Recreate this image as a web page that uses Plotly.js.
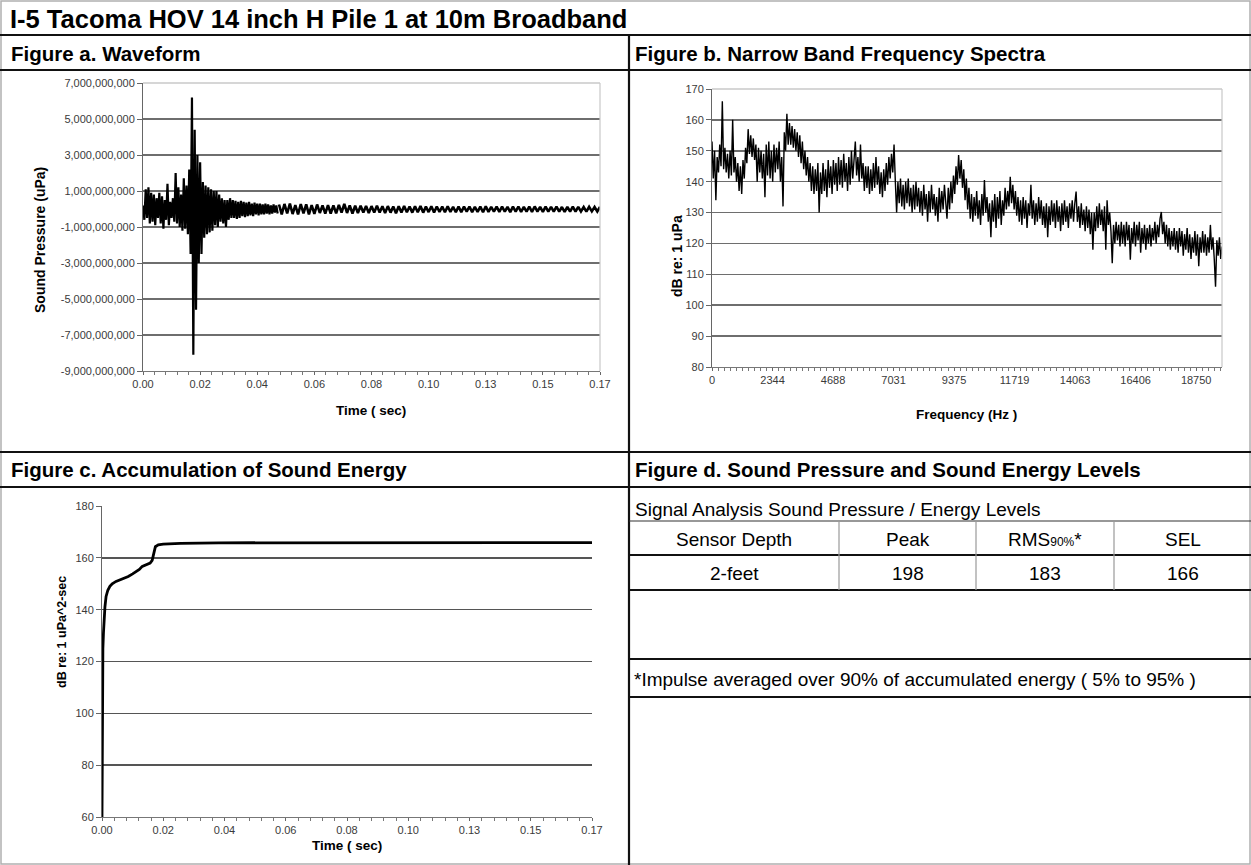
<!DOCTYPE html>
<html><head><meta charset="utf-8">
<script src="https://cdn.plot.ly/plotly-3.0.1.min.js"></script>
<style>html,body{margin:0;padding:0;background:#fff;}#chart{width:1251px;height:865px;}</style>
</head><body><div id="chart"></div>
<script>
// ---------------- DATA ----------------
const chartTitle = 'I-5 Tacoma HOV 14 inch H Pile 1 at 10m Broadband';
const panelTitles = ['Figure a. Waveform', 'Figure b. Narrow Band Frequency Spectra',
  'Figure c. Accumulation of Sound Energy', 'Figure d. Sound Pressure and Sound Energy Levels'];

// waveform, first part: samples every 0.0005 s from 0 s (uPa)
const waveHeadStep = 0.0005;
const waveHeadP = [
 0.2e9,-0.6e9,1.1e9,-0.5e9,1.2e9,-0.8e9,0.9e9,-0.7e9,0.8e9,-0.9e9,
 0.6e9,-0.5e9,0.9e9,-0.8e9,0.7e9,-1.1e9,0.5e9,-0.6e9,1.4e9,-0.9e9,
 0.4e9,-0.5e9,0.6e9,-0.7e9,2.0e9,-0.8e9,1.2e9,-1.0e9,0.8e9,-1.2e9,
 1.7e9,-1.1e9,1.3e9,-1.4e9,2.2e9,-2.5e9,6.2e9,-8.1e9,4.4e9,-5.6e9,
 3.0e9,-3.0e9,2.6e9,-2.5e9,1.5e9,-1.6e9,1.3e9,-1.4e9,1.2e9,-1.3e9,
 1.1e9,-1.2e9,1.0e9,-0.9e9,1.0e9,-1.0e9,0.8e9,-0.7e9,0.6e9,-0.8e9,
 0.5e9,-1.0e9,0.5e9,-0.6e9,0.6e9,-0.5e9,0.5e9,-0.5e9,0.45e9,-0.55e9,
 0.4e9,-0.5e9,0.45e9,-0.4e9,0.4e9,-0.45e9,0.35e9,-0.4e9,0.4e9,-0.35e9,
 0.3e9,-0.4e9,0.35e9,-0.3e9,0.3e9,-0.35e9,0.3e9,-0.3e9,0.25e9,-0.3e9,
 0.3e9,-0.25e9,0.25e9,-0.3e9,0.2e9,-0.25e9,0.25e9,-0.2e9,0.2e9,-0.25e9];
// waveform, tail: samples every 0.001 s from 0.05 s (uPa)
const waveTailStart = 0.05, waveTailStep = 0.001;
const waveTailP = [
 0.25e9,-0.3e9,0.28e9,-0.25e9,0.3e9,-0.28e9,0.22e9,-0.3e9,0.27e9,-0.24e9,
 0.26e9,-0.3e9,0.22e9,-0.27e9,0.25e9,-0.22e9,0.2e9,-0.26e9,0.22e9,-0.25e9,
 0.2e9,-0.24e9,0.23e9,-0.2e9,0.28e9,-0.22e9,0.2e9,-0.25e9,0.18e9,-0.22e9,
 0.18e9,-0.2e9,0.17e9,-0.22e9,0.16e9,-0.19e9,0.18e9,-0.2e9,0.15e9,-0.22e9,
 0.16e9,-0.2e9,0.14e9,-0.24e9,0.15e9,-0.2e9,0.17e9,-0.18e9,0.14e9,-0.2e9,
 0.15e9,-0.18e9,0.16e9,-0.2e9,0.13e9,-0.17e9,0.15e9,-0.19e9,0.14e9,-0.16e9,
 0.13e9,-0.18e9,0.15e9,-0.16e9,0.12e9,-0.18e9,0.14e9,-0.17e9,0.13e9,-0.15e9,
 0.14e9,-0.17e9,0.12e9,-0.16e9,0.13e9,-0.18e9,0.15e9,-0.16e9,0.12e9,-0.15e9,
 0.13e9,-0.16e9,0.14e9,-0.15e9,0.12e9,-0.17e9,0.13e9,-0.15e9,0.14e9,-0.16e9,
 0.12e9,-0.15e9,0.13e9,-0.16e9,0.14e9,-0.14e9,0.12e9,-0.16e9,0.13e9,-0.15e9,
 0.12e9,-0.14e9,0.13e9,-0.15e9,0.11e9,-0.16e9,0.12e9,-0.14e9,0.13e9,-0.15e9,
 0.12e9,-0.14e9,0.11e9,-0.15e9,0.12e9,-0.13e9,0.11e9,-0.14e9,0.12e9];

// narrow band spectrum: level every 50 Hz from 0 Hz (dB re 1 uPa)
const specStepHz = 50;
const spectrumDb = [
 153,141,150,134,148,143,152,145,166,144,151,143,149,141,150,142,160,143,148,140,
 146,137,145,136,147,141,151,146,157,149,155,148,154,147,152,140,151,143,150,141,
 149,135,152,142,153,141,150,140,152,143,151,144,153,140,148,132,156,150,162,152,
 159,152,158,151,157,150,156,148,155,146,153,144,150,142,148,140,146,137,145,136,
 144,137,146,130,143,136,146,137,144,135,147,138,145,136,147,139,146,137,148,139,
 147,138,149,140,146,137,148,139,150,141,147,153,142,148,140,152,141,146,137,145,
 138,145,136,144,137,146,138,148,139,145,136,143,135,144,137,146,139,148,141,149,
 143,152,140,130,140,133,141,132,139,131,140,133,141,132,138,130,139,131,140,132,
 138,130,137,129,139,131,136,127,137,130,139,131,136,129,135,127,138,130,137,131,
 139,132,128,138,131,140,133,142,136,145,139,148.6,141,147,138,144,134,141,131,138,
 128,136,127,135,129,137,128,134,126,136,129,140.5,130,135,127,133,122,134,127,136,
 125,135,128,137,126,134,129,138,131,137,132,141.6,133,139,131,137,129,135,127,134,
 126,135,128,134,125,133,129,139,128,134,126,133,127,135,128,134,126,132,125,133,
 122,132,126,134,127,133,125,134,127,132,124,133,126,134,127,132,125,133,128,134,
 127,133,136.8,127,132,125,133,126,131,124,132,125,131,123,130,118,130,124,132,125,
 133,126,131,124,132,118,134,126,130,124,113.6,126,120,127,121,126,119,127,120,126,
 119,127,121,126,114.7,125,120,127,119,126,121,127,117,125,120,126,118,125,120,126,
 119,125,121,127,120,126,122,128,130.2,123,127,120,126,119,125,118,124,119,125,118,
 124,117,125,119,124,116,123,118,125,117,123,115,122,117,124,116,123,112.6,122,117,
 124,117,123,116,122,117,126,118,122,115,106,121,116,122,115,119];

// accumulated sound energy (dB re 1 uPa^2-sec)
const energyT  = [0,0.0001,0.0003,0.0005,0.0007,0.001,0.0014,0.002,0.0027,0.0035,0.0048,0.0065,0.009,0.0105,
                  0.0117,0.0128,0.0138,0.015,0.0158,0.0165,0.0172,0.0176,0.0179,0.0183,0.0193,0.021,0.0269,0.04,0.168];
const energyDb = [60,116,125,131,137.4,141,145.1,147.5,149,150,150.9,151.6,152.8,153.8,
                  154.7,155.5,156.7,157.3,157.8,158,159,161.5,163,164.3,165,165.3,165.6,165.8,165.9];

// tick labels
const timeTickVals = [0,0.021,0.042,0.063,0.084,0.105,0.126,0.147,0.168];
const timeTickText = ['0.00','0.02','0.04','0.06','0.08','0.10','0.13','0.15','0.17'];
const pressureTickVals = [-9e9,-7e9,-5e9,-3e9,-1e9,1e9,3e9,5e9,7e9];
const pressureTickText = ['-9,000,000,000','-7,000,000,000','-5,000,000,000','-3,000,000,000','-1,000,000,000',
                          '1,000,000,000','3,000,000,000','5,000,000,000','7,000,000,000'];
const freqTickVals = [0,2343.75,4687.5,7031.25,9375,11718.75,14062.5,16406.25,18750];
const freqTickText = ['0','2344','4688','7031','9375','11719','14063','16406','18750'];

// table
const tableCaption = 'Signal Analysis Sound Pressure / Energy Levels';
const tableHeader = ['Sensor Depth','Peak','RMS<span style="font-size:12px">90%</span>*','SEL'];
const tableRow = ['2-feet','198','183','166'];
const footnote = '*Impulse averaged over 90% of accumulated energy ( 5% to 95% )';

// ---------------- LAYOUT ----------------
const FONT = 'Arial, "Liberation Sans", Helvetica, sans-serif';
const W = 1251, H = 865;
const px = x => x / W, py = y => 1 - y / H;

const shapes = [];
function hline(y, x1, x2, color, width) {
  shapes.push({type:'line', xref:'paper', yref:'paper', x0:px(x1), x1:px(x2), y0:py(y), y1:py(y), line:{color:color, width:width}});
}
function vline(x, y1, y2, color, width) {
  shapes.push({type:'line', xref:'paper', yref:'paper', x0:px(x), x1:px(x), y0:py(y1), y1:py(y2), line:{color:color, width:width}});
}
// outer frame
shapes.push({type:'rect', xref:'paper', yref:'paper', x0:px(1), x1:px(1250), y0:py(864), y1:py(1), line:{color:'#b0b0b0', width:1.5}});
// structure lines
hline(35, 0, W, '#111', 2.2);
hline(70, 0, W, '#111', 2.2);
hline(452, 0, W, '#111', 2.2);
hline(487, 0, W, '#111', 2.2);
vline(629, 35, H, '#111', 2.2);
// table lines
hline(521, 629, W, '#333', 1.2);
hline(555, 629, W, '#111', 1.8);
hline(590, 629, W, '#111', 2.2);
hline(659, 629, W, '#111', 2.2);
hline(697, 629, W, '#111', 1.8);
const colEdges = [629, 839, 976, 1114, 1251];
for (let i = 1; i < colEdges.length - 1; i++) vline(colEdges[i], 521, 590, '#999', 1.2);
// light plot-area borders (top/right) of panels a and b
hline(83, 143, 600, '#c8c8c8', 1.6); vline(600, 83, 371, '#c8c8c8', 1.2);
hline(89, 712, 1222, '#c8c8c8', 1.6); vline(1222, 89, 367, '#c8c8c8', 1.2);

const annotations = [];
function text(x, y, str, size, anchor, opts) {
  opts = opts || {};
  annotations.push(Object.assign({xref:'paper', yref:'paper', x:px(x), y:py(y), text:str, showarrow:false,
    xanchor:anchor, yanchor:'middle', font:{family:FONT, size:size, color:opts.color || '#000'}}, opts.extra || {}));
}
text(8, 19, '<b>' + chartTitle + '</b>', 25.5, 'left');
text(9, 54, '<b>' + panelTitles[0] + '</b>', 20.5, 'left');
text(633, 54, '<b>' + panelTitles[1] + '</b>', 20.5, 'left');
text(9, 470, '<b>' + panelTitles[2] + '</b>', 20.5, 'left');
text(633, 470, '<b>' + panelTitles[3] + '</b>', 20.5, 'left');
// axis titles
text(40, 240, '<b>Sound Pressure (uPa)</b>', 14, 'center', {extra:{textangle:-90}});
text(371, 410, '<b>Time ( sec)</b>', 13.5, 'center');
text(677, 256, '<b>dB re: 1 uPa</b>', 14, 'center', {extra:{textangle:-90}});
text(966, 415, '<b>Frequency (Hz )</b>', 13.5, 'center');
text(62, 632, '<b>dB re: 1 uPa^2-sec</b>', 12.5, 'center', {extra:{textangle:-90}});
text(347, 845, '<b>Time ( sec)</b>', 13.5, 'center');
// table text
text(633, 509, tableCaption, 19, 'left');
for (let i = 0; i < 4; i++) {
  const cx = (colEdges[i] + colEdges[i + 1]) / 2;
  text(cx, 539, tableHeader[i], 19, 'center');
  text(cx, 573, tableRow[i], 19, 'center');
}
text(632, 679, footnote, 19, 'left');

const tickFont = {family:FONT, size:11, color:'#3a3a3a'};
function xAxis(x1, x2, range, tv, tt, minorStep, anchor) {
  return {domain:[px(x1), px(x2)], range:range, tickmode:'array', tickvals:tv, ticktext:tt,
    ticks:'outside', ticklen:3, tickwidth:1, tickcolor:'#666', showline:true, linecolor:'#777', linewidth:1,
    showgrid:false, zeroline:false, tickfont:tickFont, anchor:anchor, fixedrange:true,
    minor:{ticks:'outside', ticklen:3, tickwidth:1, tickcolor:'#777', dtick:minorStep, tick0:0, showgrid:false}};
}
function yAxis(y1, y2, range, tv, tt, grid, anchor) {
  const a = {domain:[py(y2), py(y1)], range:range, ticks:'outside', ticklen:5, tickwidth:1, tickcolor:'#666',
    showline:true, linecolor:'#666', linewidth:1, showgrid:true, gridcolor:grid, gridwidth:1.5,
    zeroline:false, tickfont:tickFont, anchor:anchor, fixedrange:true};
  if (Array.isArray(tv)) { a.tickmode = 'array'; a.tickvals = tv; a.ticktext = tt; }
  else { a.tickmode = 'linear'; a.tick0 = range[0]; a.dtick = tv; }
  return a;
}

const layout = {
  width:W, height:H, autosize:false, margin:{l:0, r:0, t:0, b:0},
  paper_bgcolor:'#fff', plot_bgcolor:'#fff', showlegend:false,
  xaxis: xAxis(143, 600, [0, 0.168], timeTickVals, timeTickText, 0.0042, 'y'),
  yaxis: yAxis(83, 371, [-9e9, 7e9], pressureTickVals, pressureTickText, '#6e6e6e', 'x'),
  xaxis2: xAxis(712, 1222, [0, 19750], freqTickVals, freqTickText, 234.375, 'y2'),
  yaxis2: yAxis(89, 367, [80, 170], 10, null, '#6e6e6e', 'x2'),
  xaxis3: xAxis(102, 592, [0, 0.168], timeTickVals, timeTickText, 0.0042, 'y3'),
  yaxis3: yAxis(506, 817, [60, 180], 20, null, '#555', 'x3'),
  shapes:shapes, annotations:annotations
};

const traces = [
  {type:'scatter', mode:'lines', x0:0, dx:waveHeadStep, y:waveHeadP, xaxis:'x', yaxis:'y', line:{color:'#000', width:2.2}},
  {type:'scatter', mode:'lines', x0:waveTailStart, dx:waveTailStep, y:waveTailP, xaxis:'x', yaxis:'y', line:{color:'#000', width:2.6}},
  {type:'scatter', mode:'lines', x0:0, dx:specStepHz, y:spectrumDb, xaxis:'x2', yaxis:'y2', line:{color:'#000', width:1.4}},
  {type:'scatter', mode:'lines', x:energyT, y:energyDb, xaxis:'x3', yaxis:'y3', line:{color:'#000', width:2.8}}
];

Plotly.newPlot('chart', traces, layout, {staticPlot:true, displayModeBar:false});
</script></body></html>
